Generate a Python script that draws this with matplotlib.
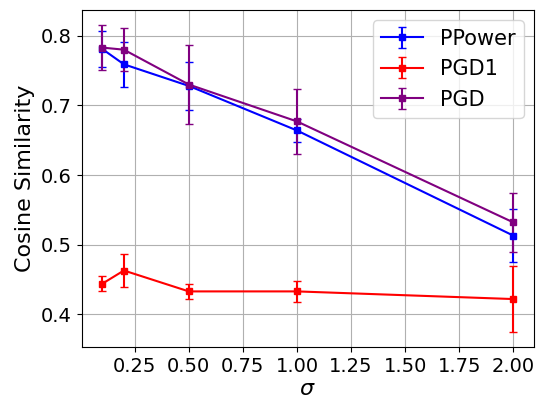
import matplotlib
matplotlib.use("Agg")
import matplotlib.pyplot as plt

sigma = [0.1, 0.2, 0.5, 1.0, 2.0]
ppower_mean = [0.781, 0.759, 0.728, 0.664, 0.513]
ppower_err = [0.026, 0.032, 0.034, 0.016, 0.038]
pgd1_mean = [0.444, 0.463, 0.433, 0.433, 0.422]
pgd1_err = [0.011, 0.023, 0.011, 0.015, 0.047]
pgd_mean = [0.783, 0.780, 0.730, 0.677, 0.532]
pgd_err = [0.032, 0.031, 0.057, 0.047, 0.042]

fig = plt.figure(figsize=(5.41, 3.99), dpi=100)
ax = fig.add_axes([0.151, 0.130, 0.836, 0.845])
kw = dict(marker='s', markersize=4, capsize=3, linewidth=1.5)
ax.errorbar(sigma, ppower_mean, yerr=ppower_err, color='blue', label='PPower', **kw)
ax.errorbar(sigma, pgd1_mean, yerr=pgd1_err, color='red', label='PGD1', **kw)
ax.errorbar(sigma, pgd_mean, yerr=pgd_err, color='purple', label='PGD', **kw)
ax.set_xlabel(r'$\sigma$', fontsize=16, labelpad=2)
ax.set_ylabel('Cosine Similarity', fontsize=16)
ax.tick_params(labelsize=14)
ax.set_xticks([0.25, 0.5, 0.75, 1.0, 1.25, 1.5, 1.75, 2.0])
ax.grid(True)
ax.legend(fontsize=15, loc='upper right')
fig.savefig('out.png', dpi=100)
